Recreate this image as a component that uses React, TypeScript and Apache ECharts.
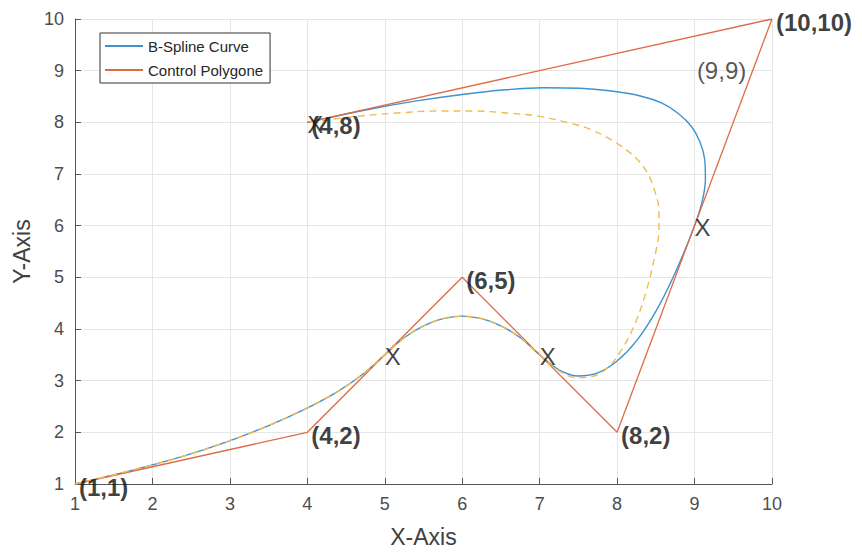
import React, { useEffect, useRef } from 'react';
import * as echarts from 'echarts';

// Control polygon vertices
const polygonPoints: number[][] = [
  [1, 1], [4, 2], [6, 5], [8, 2], [10, 10], [4, 8],
];

// Part of the curve shared by both splines
const commonPath: number[][] = [
  [1, 1], [1.72, 1.26], [2.38, 1.53], [2.97, 1.82], [3.5, 2.13], [3.97, 2.45],
  [4.38, 2.78], [4.72, 3.13], [5, 3.5], [5.25, 3.83], [5.5, 4.06], [5.75, 4.2],
  [6, 4.25], [6.25, 4.2], [6.5, 4.06], [6.75, 3.83], [7, 3.5],
];

// Solid B-spline tail
const splineTail: number[][] = [
  [7.25, 3.21], [7.5, 3.09], [7.75, 3.15], [8, 3.38], [8.25, 3.77], [8.5, 4.34],
  [8.75, 5.09], [9, 6], [9.1, 6.48], [9.14, 6.91], [9.13, 7.29], [9.07, 7.62],
  [8.96, 7.92], [8.79, 8.17], [8.58, 8.37], [8.3, 8.51], [7.9, 8.61], [7.52, 8.66],
  [7.05, 8.67], [6.56, 8.63], [6.0, 8.54], [5.39, 8.41], [4.72, 8.23], [4, 8],
];

// Dashed alternative tail
const dashedTail: number[][] = [
  [7.24, 3.2], [7.47, 3.06], [7.68, 3.08], [7.88, 3.25], [8.05, 3.58], [8.22, 4.06],
  [8.37, 4.7], [8.5, 5.5], [8.54, 5.92], [8.54, 6.3], [8.49, 6.65], [8.41, 6.97],
  [8.28, 7.25], [8.1, 7.49], [7.88, 7.7], [7.63, 7.88], [7.32, 8.01], [6.98, 8.12],
  [6.58, 8.18], [6.16, 8.22], [5.68, 8.22], [5.16, 8.18], [4.6, 8.11], [4, 8],
];

// Vertex annotations
const vertexLabels: (number | string)[][] = [
  [1, 1, '(1,1)'], [4, 2, '(4,2)'], [6, 5, '(6,5)'], [8, 2, '(8,2)'],
  [10, 10, '(10,10)'], [4, 8, '(4,8)'],
];
const extraLabels: (number | string)[][] = [[9.03, 9, '(9,9)']];

// "X" markers on the curve
const crossMarks: number[][] = [[4, 8], [5, 3.5], [7, 3.5], [9, 6]];

const tickFont = "'Liberation Sans Narrow', 'Liberation Sans', Arial, sans-serif";
const font = "'Liberation Sans', Arial, sans-serif";

export default function App() {
  const ref = useRef<HTMLDivElement>(null);
  useEffect(() => {
    const chart = echarts.init(ref.current!, null, { renderer: 'svg' });
    const axisCommon = {
      type: 'value',
      min: 1,
      max: 10,
      interval: 1,
      axisLine: { show: true, onZero: false, lineStyle: { color: '#555555', width: 1 } },
      axisTick: { show: true, inside: true, length: 6, lineStyle: { color: '#555555' } },
      splitLine: { show: true, lineStyle: { color: '#e6e6e6', width: 1 } },
      axisLabel: { color: '#4d4d4d', fontSize: 18, fontFamily: tickFont, margin: 11 },
      nameTextStyle: { color: '#404040', fontSize: 23, fontFamily: tickFont },
    };
    chart.setOption({
      animation: false,
      backgroundColor: '#ffffff',
      grid: { left: 75, right: 90, top: 19, bottom: 68, containLabel: false },
      xAxis: { ...axisCommon, name: 'X-Axis', nameLocation: 'middle', nameGap: 41 },
      yAxis: { ...axisCommon, name: 'Y-Axis', nameLocation: 'middle', nameGap: 34, nameRotate: 90 },
      legend: {
        data: ['B-Spline Curve', 'Control Polygone'],
        orient: 'vertical',
        left: 100,
        top: 33,
        padding: [5, 7, 5, 5],
        itemWidth: 38,
        itemHeight: 2,
        itemGap: 8,
        icon: 'rect',
        borderColor: '#333333',
        borderWidth: 1,
        backgroundColor: '#ffffff',
        textStyle: { color: '#262626', fontSize: 15, lineHeight: 16, fontFamily: font },
      },
      series: [
        {
          name: 'B-Spline Curve',
          type: 'line',
          data: [...commonPath, ...splineTail],
          smooth: 0.35,
          symbol: 'none',
          lineStyle: { color: '#3e93cf', width: 1.4 },
          itemStyle: { color: '#3e93cf' },
          z: 2,
        },
        {
          name: 'Control Polygone',
          type: 'line',
          data: polygonPoints,
          symbol: 'none',
          lineStyle: { color: '#de6b45', width: 1.3 },
          itemStyle: { color: '#de6b45' },
          z: 3,
        },
        {
          name: 'dashed',
          type: 'line',
          data: [...commonPath, ...dashedTail],
          smooth: 0.35,
          symbol: 'none',
          lineStyle: { color: '#efbd4e', width: 1.4, type: [7, 5] },
          itemStyle: { color: '#efbd4e' },
          z: 4,
        },
        {
          name: 'vertexLabels',
          type: 'scatter',
          data: vertexLabels,
          symbolSize: 0,
          silent: true,
          z: 6,
          label: {
            show: true,
            position: 'right',
            distance: 4,
            offset: [0, 3],
            formatter: (p: any) => p.value[2],
            color: '#0d0d0d',
            fontSize: 24,
            fontWeight: 'bold',
            fontFamily: font,
          },
        },
        {
          name: 'extraLabels',
          type: 'scatter',
          data: extraLabels,
          symbolSize: 0,
          silent: true,
          z: 6,
          label: {
            show: true,
            position: 'right',
            distance: 0,
            formatter: (p: any) => p.value[2],
            color: '#2b2b2b',
            fontSize: 24,
            fontFamily: font,
          },
        },
        {
          name: 'crosses',
          type: 'scatter',
          data: crossMarks,
          symbolSize: 0,
          silent: true,
          z: 5,
          label: {
            show: true,
            position: 'right',
            distance: 0,
            offset: [0, 2],
            formatter: () => 'X',
            color: '#111111',
            fontSize: 24,
            fontFamily: font,
          },
        },
      ],
    });
    return () => chart.dispose();
  }, []);
  return (
    <div
      ref={ref}
      style={{ position: 'fixed', left: 0, top: 0, width: 862, height: 553, background: '#ffffff' }}
    />
  );
}
